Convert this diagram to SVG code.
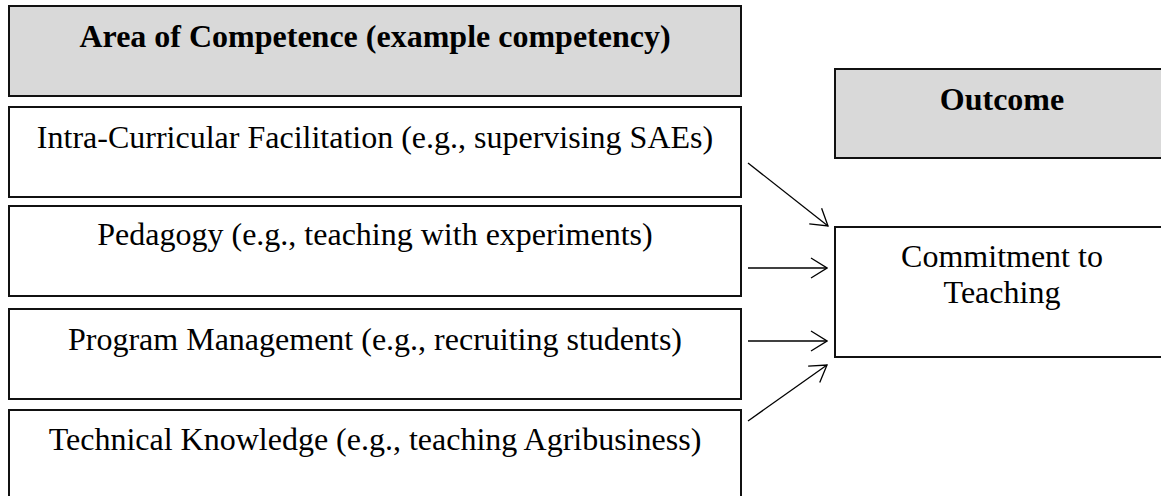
<svg xmlns="http://www.w3.org/2000/svg" width="1161" height="496" viewBox="0 0 1161 496">
<style>
.box{fill:#ffffff;stroke:#111111;stroke-width:2}
.hdr{fill:#d9d9d9;stroke:#111111;stroke-width:2}
.t{font-family:"Liberation Serif","Times New Roman",serif;font-size:32px;fill:#000;text-anchor:middle}
.b{font-weight:bold}
.c{fill:none;stroke:#000;stroke-width:1.3}
</style>
<defs>
<marker id="ah" markerUnits="userSpaceOnUse" viewBox="0 0 18 22" refX="17" refY="11" markerWidth="18" markerHeight="22" orient="auto">
<path d="M1,1 L17,11 L1,21" fill="none" stroke="#000" stroke-width="1.3"/>
</marker>
</defs>
<rect width="1161" height="496" fill="#ffffff"/>
<g id="header-competence">
<rect class="hdr" x="9" y="6" width="732" height="90"/>
<text class="t b" x="375" y="47">Area of Competence (example competency)</text>
</g>
<g id="intra-curricular">
<rect class="box" x="9" y="107" width="732" height="90"/>
<text class="t" x="375" y="148">Intra-Curricular Facilitation (e.g., supervising SAEs)</text>
</g>
<g id="pedagogy">
<rect class="box" x="9" y="206" width="732" height="90"/>
<text class="t" x="375" y="245">Pedagogy (e.g., teaching with experiments)</text>
</g>
<g id="program-management">
<rect class="box" x="9" y="309" width="732" height="90"/>
<text class="t" x="375" y="350">Program Management (e.g., recruiting students)</text>
</g>
<g id="technical-knowledge">
<rect class="box" x="9" y="410" width="732" height="100"/>
<text class="t" x="375" y="450">Technical Knowledge (e.g., teaching Agribusiness)</text>
</g>
<g id="header-outcome">
<rect class="hdr" x="835" y="69" width="340" height="89"/>
<text class="t b" x="1002" y="110">Outcome</text>
</g>
<g id="commitment">
<rect class="box" x="835" y="227" width="340" height="130"/>
<text class="t" x="1002" y="267">Commitment to</text>
<text class="t" x="1002" y="303">Teaching</text>
</g>
<g id="connectors">
<line class="c" x1="748" y1="163" x2="828" y2="226" marker-end="url(#ah)"/>
<line class="c" x1="748" y1="268" x2="827" y2="268" marker-end="url(#ah)"/>
<line class="c" x1="748" y1="341" x2="827" y2="341" marker-end="url(#ah)"/>
<line class="c" x1="748" y1="421" x2="827" y2="365" marker-end="url(#ah)"/>
</g>
</svg>
